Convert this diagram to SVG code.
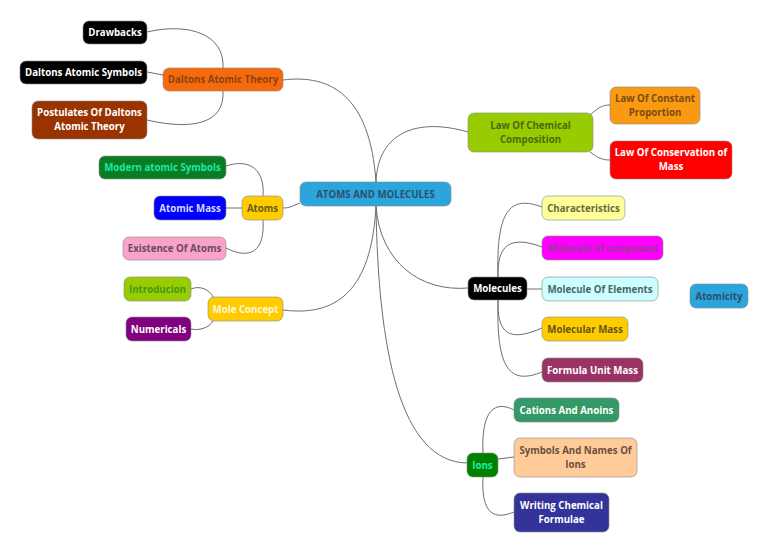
<svg xmlns="http://www.w3.org/2000/svg" width="768" height="552" viewBox="0 0 768 552">
<style>
.n rect{stroke:#888;stroke-width:1;stroke-opacity:0.6}
text{font-family:"Open Sans","Noto Sans","DejaVu Sans",sans-serif;font-weight:bold;font-size:9.7px;text-anchor:middle}
#links path{fill:none;stroke:#6e6e6e;stroke-width:1}
</style>
<rect width="768" height="552" fill="#ffffff"/>
<g id="links">
<path d="M376,182 C370,95 330,74 283,80"/>
<path d="M376,182 C378,130 420,118 468,132"/>
<path d="M300,203 C292,206 290,208 283,208"/>
<path d="M376,206 C372,280 345,318 283,310"/>
<path d="M376,206 C380,262 420,292 468,288"/>
<path d="M376,206 C378,350 400,463 468,463"/>
<path d="M223,68 C225,35 190,22 147,32"/>
<path d="M163,75 L147,72"/>
<path d="M223,91 C225,125 190,130 147,120"/>
<path d="M590,115 C598,108 602,105 610,105"/>
<path d="M590,152 C598,158 602,160 610,160"/>
<path d="M263,196 C265,170 250,158 226,166"/>
<path d="M242,208 L226,208"/>
<path d="M263,220 C265,252 250,260 226,248"/>
<path d="M213,297 C210,290 200,285 191,289"/>
<path d="M213,321 C210,327 200,331 191,329"/>
<path d="M498,277 C496,210 510,195 542,207"/>
<path d="M498,277 C497,245 510,235 542,247"/>
<path d="M527,289 L542,289"/>
<path d="M498,300 C497,335 510,342 542,328"/>
<path d="M498,300 C496,370 510,385 542,372"/>
<path d="M483,453 C481,410 495,400 514,410"/>
<path d="M498,459 L514,457"/>
<path d="M483,477 C481,515 495,520 514,512"/>
</g>
<g id="root" class="n"><rect x="300" y="182" width="151" height="24" rx="6" fill="#2aa6dc"/><text x="375.5" y="197.5" fill="#2e4f6a">ATOMS AND MOLECULES</text></g>
<g id="dalton" class="n"><rect x="163" y="68" width="120" height="23" rx="6" fill="#f76a0c"/><text x="223" y="83" fill="#8a4216">Daltons Atomic Theory</text></g>
<g id="drawbacks" class="n"><rect x="83" y="21" width="64" height="23" rx="6" fill="#000000"/><text x="115" y="36" fill="#ffffff">Drawbacks</text></g>
<g id="symbols" class="n"><rect x="20" y="61" width="127" height="23" rx="6" fill="#000000"/><text x="83.5" y="76" fill="#ffffff">Daltons Atomic Symbols</text></g>
<g id="postulates" class="n"><rect x="32" y="101" width="115" height="38" rx="6" fill="#993300"/><text x="89.5" y="116" fill="#ffffff">Postulates Of Daltons</text><text x="89.5" y="130" fill="#ffffff">Atomic Theory</text></g>
<g id="lawchem" class="n"><rect x="468" y="113" width="125" height="39" rx="6" fill="#99cc00"/><text x="530.5" y="128.5" fill="#4a6a10">Law Of Chemical</text><text x="530.5" y="143" fill="#4a6a10">Composition</text></g>
<g id="lawconst" class="n"><rect x="610" y="87" width="90" height="37" rx="6" fill="#f99a12"/><text x="655" y="101.5" fill="#7a4a10">Law Of Constant</text><text x="655" y="115.5" fill="#7a4a10">Proportion</text></g>
<g id="lawcons" class="n"><rect x="610" y="141" width="122" height="38" rx="6" fill="#ff0000"/><text x="671" y="156" fill="#ffffff">Law Of Conservation of</text><text x="671" y="170" fill="#ffffff">Mass</text></g>
<g id="atoms" class="n"><rect x="242" y="196" width="41" height="24" rx="6" fill="#ffcc00"/><text x="262.5" y="211.5" fill="#6b5a1a">Atoms</text></g>
<g id="modern" class="n"><rect x="99" y="156" width="127" height="23" rx="6" fill="#0a7d24"/><text x="162.5" y="171" fill="#1de6a6">Modern atomic Symbols</text></g>
<g id="atomicmass" class="n"><rect x="154" y="196" width="72" height="24" rx="6" fill="#0000ff"/><text x="190" y="211.5" fill="#d8d8ff">Atomic Mass</text></g>
<g id="existence" class="n"><rect x="123" y="237" width="103" height="23" rx="6" fill="#f9a3cb"/><text x="174.5" y="252" fill="#6a4a5c">Existence Of Atoms</text></g>
<g id="mole" class="n"><rect x="208" y="297" width="75" height="24" rx="6" fill="#ffcc00"/><text x="245.5" y="312.5" fill="#fff6d8">Mole Concept</text></g>
<g id="intro" class="n"><rect x="124" y="277" width="67" height="24" rx="6" fill="#99cc00"/><text x="157.5" y="292.5" fill="#3d9a1c">Introducion</text></g>
<g id="numericals" class="n"><rect x="126" y="317" width="65" height="24" rx="6" fill="#800080"/><text x="158.5" y="332.5" fill="#ffffff">Numericals</text></g>
<g id="molecules" class="n"><rect x="468" y="277" width="59" height="23" rx="6" fill="#000000"/><text x="497.5" y="292" fill="#ffffff">Molecules</text></g>
<g id="characteristics" class="n"><rect x="542" y="196" width="83" height="24" rx="6" fill="#ffff99"/><text x="583.5" y="211.5" fill="#6a6a3a">Characteristics</text></g>
<g id="compound" class="n"><rect x="542" y="236" width="121" height="24" rx="6" fill="#ff00ff"/><text x="602.5" y="251.5" fill="#9a3a9a">Molecule of compound</text></g>
<g id="elements" class="n"><rect x="542" y="277" width="116" height="24" rx="6" fill="#ccffff"/><text x="600" y="292.5" fill="#4d6666">Molecule Of Elements</text></g>
<g id="molmass" class="n"><rect x="542" y="317" width="86" height="24" rx="6" fill="#ffcc00"/><text x="585" y="332.5" fill="#665418">Molecular Mass</text></g>
<g id="formula" class="n"><rect x="542" y="358" width="101" height="24" rx="6" fill="#993366"/><text x="592.5" y="373.5" fill="#ffffff">Formula Unit Mass</text></g>
<g id="atomicity" class="n"><rect x="690" y="284" width="58" height="24" rx="6" fill="#2aa6dc"/><text x="719" y="299.5" fill="#2e4f6a">Atomicity</text></g>
<g id="ions" class="n"><rect x="467" y="453" width="31" height="24" rx="6" fill="#008000"/><text x="482.5" y="468.5" fill="#1df0a8">Ions</text></g>
<g id="cations" class="n"><rect x="514" y="398" width="105" height="24" rx="6" fill="#339966"/><text x="566.5" y="413.5" fill="#ffffff">Cations And Anoins</text></g>
<g id="symnames" class="n"><rect x="514" y="438" width="123" height="39" rx="6" fill="#ffcc99"/><text x="575.5" y="453.5" fill="#6b5040">Symbols And Names Of</text><text x="575.5" y="468" fill="#6b5040">Ions</text></g>
<g id="writing" class="n"><rect x="514" y="493" width="95" height="39" rx="6" fill="#333399"/><text x="561.5" y="508.5" fill="#ffffff">Writing Chemical</text><text x="561.5" y="523" fill="#ffffff">Formulae</text></g>
</svg>
